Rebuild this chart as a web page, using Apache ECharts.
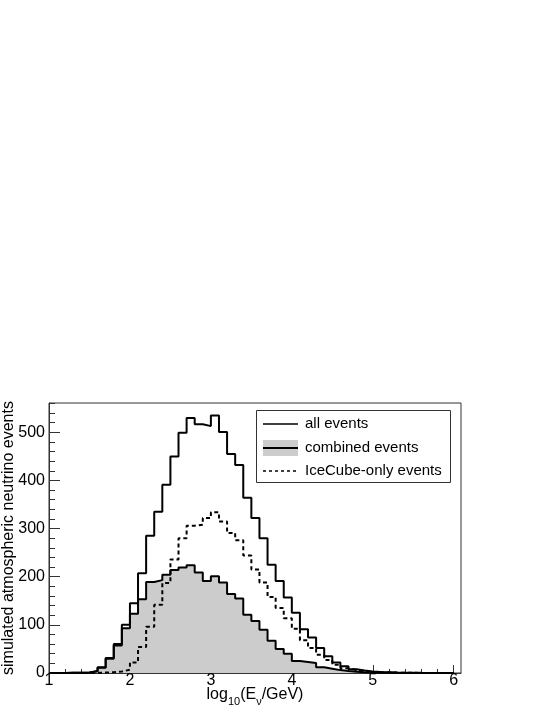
<!DOCTYPE html>
<html>
<head>
<meta charset="utf-8">
<script src="https://cdn.jsdelivr.net/npm/echarts@6/dist/echarts.min.js"></script>
<style>
  html, body { margin: 0; padding: 0; background: #ffffff; }
  #chart { width: 554px; height: 717px; }
</style>
</head>
<body>
<div id="chart"></div>
<script>
// ---- data (histogram bins of width 0.1 in log10(E/GeV)) ----
const binEdges = [
  1.0, 1.1, 1.2, 1.3, 1.4, 1.5, 1.6, 1.7, 1.8, 1.9,
  2.0, 2.1, 2.2, 2.3, 2.4, 2.5, 2.6, 2.7, 2.8, 2.9,
  3.0, 3.1, 3.2, 3.3, 3.4, 3.5, 3.6, 3.7, 3.8, 3.9,
  4.0, 4.1, 4.2, 4.3, 4.4, 4.5, 4.6, 4.7, 4.8, 4.9,
  5.0, 5.1, 5.2, 5.3, 5.4, 5.5, 5.6, 5.7, 5.8, 5.9,
  6.0
];
const allEvents = [
  0, 0, 0.3, 0.5, 1, 4, 12, 31, 60, 100,
  145, 207, 285, 335, 391, 450, 499, 530, 517, 513,
  535, 501, 455, 432, 364, 322, 280, 225, 191, 157,
  125, 91, 74, 52, 35, 22, 14, 8, 5, 3,
  2, 1.5, 1, 0.7, 0.5, 0.3, 0.2, 0.2, 0.1, 0.1
];
const combinedEvents = [
  0, 0, 0.3, 0.5, 1, 3.5, 11, 29.5, 57, 93,
  123, 153, 189, 193, 204, 214, 219, 224, 209, 191,
  201, 188, 164, 155, 121, 108, 90, 67, 50, 40,
  25, 23, 21, 12, 9, 6, 4, 2.5, 1.5, 1,
  0.7, 0.5, 0.3, 0.2, 0.2, 0.1, 0.1, 0, 0, 0
];
const iceCubeOnlyEvents = [
  0, 0, 0, 0, 0, 0.5, 1, 1.5, 3, 7,
  22, 54, 96, 142, 187, 236, 280, 306, 308, 322,
  334, 315, 291, 276, 244, 215, 188, 158, 135, 114,
  92, 68, 52, 38, 27, 17, 10, 6, 3.5, 2,
  1.3, 1, 0.7, 0.5, 0.3, 0.2, 0.1, 0.1, 0.1, 0
];
const xMajorTicks = [1, 2, 3, 4, 5, 6];
const yMajorTicks = [0, 100, 200, 300, 400, 500];
const yTitle = 'simulated atmospheric neutrino events';
const legendLabels = ['all events', 'combined events', 'IceCube-only events'];

// ---- helpers ----
function stepData(values) {
  // points at each bin's lower edge, plus the upper edge of the last bin
  return binEdges.map((e, i) => [e, values[Math.min(i, values.length - 1)]]);
}
const xMinor = [];
for (let i = 0; i < xMajorTicks.length - 1; i++) {
  for (let k = 1; k < 5; k++) xMinor.push(+(xMajorTicks[i] + k * 0.2).toFixed(2));
}
const yMinor = [];
for (let v = 20; v <= 560; v += 20) { if (v % 100 !== 0) yMinor.push(v); }

const FONT = 'Liberation Sans, Arial, Helvetica, sans-serif';
const X_MIN = 1, X_MAX = 6.09, Y_MIN = 0, Y_MAX = 561;
const AXIS_COLOR = '#333333';

const chart = echarts.init(document.getElementById('chart'), null, { renderer: 'canvas' });

const baseX = {
  type: 'value', min: X_MIN, max: X_MAX, position: 'bottom',
  splitLine: { show: false },
};
const baseY = {
  type: 'value', min: Y_MIN, max: Y_MAX, position: 'left',
  splitLine: { show: false },
};

const option = {
  animation: false,
  backgroundColor: '#ffffff',
  textStyle: { fontFamily: FONT },
  grid: {
    left: 49, top: 403, width: 412, height: 270,
    containLabel: false,
    outerBoundsMode: 'none',
    show: true, borderColor: AXIS_COLOR, borderWidth: 1,
    backgroundColor: 'transparent'
  },
  xAxis: [
    Object.assign({}, baseX, {
      axisLine: { show: true, lineStyle: { color: AXIS_COLOR, width: 1 } },
      axisTick: { show: true, inside: true, length: 8, customValues: xMajorTicks,
                  lineStyle: { color: AXIS_COLOR, width: 1 } },
      axisLabel: { show: true, customValues: xMajorTicks, margin: 0,
                   fontSize: 16, color: '#000', fontFamily: FONT },
      name: '{m|log}{s|10}{m|(E}{s|ν}{m|/GeV)}',
      nameLocation: 'middle',
      nameGap: 14,
      nameMoveOverlap: false,
      nameTextStyle: {
        rich: {
          m: { fontSize: 16, fontFamily: FONT, color: '#000', lineHeight: 16, verticalAlign: 'top' },
          s: { fontSize: 11, fontFamily: FONT, color: '#000', lineHeight: 11, verticalAlign: 'top', padding: [9, 0, 0, 0] }
        }
      }
    }),
    Object.assign({}, baseX, {
      axisLine: { show: false },
      axisTick: { show: true, inside: true, length: 4, customValues: xMinor,
                  lineStyle: { color: AXIS_COLOR, width: 1 } },
      axisLabel: { show: false }
    })
  ],
  yAxis: [
    Object.assign({}, baseY, {
      axisLine: { show: true, lineStyle: { color: AXIS_COLOR, width: 1 } },
      axisTick: { show: true, inside: true, length: 11, customValues: yMajorTicks,
                  lineStyle: { color: AXIS_COLOR, width: 1 } },
      axisLabel: { show: true, customValues: yMajorTicks, margin: 4,
                   fontSize: 16, color: '#000', fontFamily: FONT },
      name: yTitle,
      nameLocation: 'middle',
      nameGap: 32,
      nameMoveOverlap: false,
      nameTextStyle: { fontSize: 16, color: '#000', fontFamily: FONT }
    }),
    Object.assign({}, baseY, {
      axisLine: { show: false },
      axisTick: { show: true, inside: true, length: 6, customValues: yMinor,
                  lineStyle: { color: AXIS_COLOR, width: 1 } },
      axisLabel: { show: false }
    })
  ],
  series: [
    {
      name: legendLabels[1], type: 'line', step: 'end',
      data: stepData(combinedEvents), symbol: 'none', silent: true,
      lineStyle: { color: '#000', width: 2 },
      areaStyle: { color: '#cccccc', opacity: 1 },
      z: 2
    },
    {
      name: legendLabels[0], type: 'line', step: 'end',
      data: stepData(allEvents), symbol: 'none', silent: true,
      lineStyle: { color: '#000', width: 2 },
      z: 3
    },
    {
      name: legendLabels[2], type: 'line', step: 'end',
      data: stepData(iceCubeOnlyEvents), symbol: 'none', silent: true,
      lineStyle: { color: '#000', width: 2, type: [4, 3] },
      z: 4
    }
  ],
  graphic: [
    { type: 'rect', z: 100, shape: { x: 256.5, y: 410.5, width: 194, height: 72 },
      style: { fill: '#ffffff', stroke: '#333333', lineWidth: 1 } },
    // all events
    { type: 'line', z: 101, shape: { x1: 263, y1: 424, x2: 298, y2: 424 },
      style: { stroke: '#000', lineWidth: 1.5 } },
    { type: 'text', z: 101, x: 305, y: 424,
      style: { text: legendLabels[0], font: '15px ' + FONT, fill: '#000', verticalAlign: 'middle' } },
    // combined events
    { type: 'rect', z: 101, shape: { x: 263, y: 440, width: 35, height: 16 },
      style: { fill: '#cccccc', stroke: null } },
    { type: 'line', z: 102, shape: { x1: 263, y1: 448, x2: 298, y2: 448 },
      style: { stroke: '#000', lineWidth: 2 } },
    { type: 'text', z: 101, x: 305, y: 448,
      style: { text: legendLabels[1], font: '15px ' + FONT, fill: '#000', verticalAlign: 'middle' } },
    // IceCube-only events
    { type: 'line', z: 101, shape: { x1: 263, y1: 471, x2: 298, y2: 471 },
      style: { stroke: '#000', lineWidth: 1.5, lineDash: [3, 3] } },
    { type: 'text', z: 101, x: 305, y: 471,
      style: { text: legendLabels[2], font: '15px ' + FONT, fill: '#000', verticalAlign: 'middle' } }
  ]
};

chart.setOption(option);
</script>
</body>
</html>
